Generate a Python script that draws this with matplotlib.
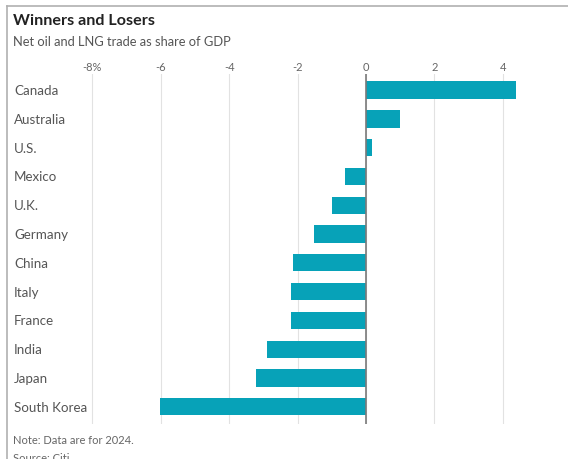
import numpy as np
import matplotlib.pyplot as plt
from matplotlib.lines import Line2D
from matplotlib.transforms import blended_transform_factory

plt.rcParams['font.family'] = ['Lato', 'DejaVu Sans']

countries = ["Canada", "Australia", "U.S.", "Mexico", "U.K.", "Germany",
             "China", "Italy", "France", "India", "Japan", "South Korea"]
values = [4.38, 1.0, 0.18, -0.6, -1.0, -1.52, -2.13, -2.2, -2.2, -2.9, -3.21, -6.02]
xticks = [-8, -6, -4, -2, 0, 2, 4, 6]
xticklabels = ["-8%", "-6", "-4", "-2", "0", "2", "4", "6"]

W, H = 568, 460
fig = plt.figure(figsize=(W / 100, H / 100), dpi=100)

# axes placement in pixels: zero at x=366, 34.2 px per unit
x0, ppu = 366, 34.2
xmin, xmax = -8.5, 6.05
left = x0 + ppu * xmin
right = x0 + ppu * xmax
top, bottom = 75, 425
ax = fig.add_axes([left / W, 1 - bottom / H, (right - left) / W, (bottom - top) / H])

y = np.arange(len(countries))
ax.barh(y, values, height=0.6, color="#07a2b8", zorder=2)
ax.set_xlim(xmin, xmax)
ax.set_ylim(len(countries) - 0.4, -0.56)

ax.set_xticks(xticks)
ax.set_xticklabels(xticklabels)
ax.xaxis.tick_top()
ax.tick_params(axis="x", length=0, pad=1.5, labelsize=8, labelcolor="#666666")
ax.set_yticks([])
for s in ax.spines.values():
    s.set_visible(False)
ax.grid(axis="x", color="#e2e2e2", linewidth=0.8, zorder=0)
ax.axvline(0, color="#7a7a7a", linewidth=1.2, zorder=3)

trans = blended_transform_factory(fig.transFigure, ax.transData)
for yi, name in zip(y, countries):
    fig.text(14 / W, yi, name, transform=trans, ha="left", va="center",
             fontsize=9.6, color="#555555")

fig.text(13 / W, 1 - 21 / H, "Winners and Losers", fontsize=11.6,
         fontweight="bold", color="#222222", va="center")
fig.text(13 / W, 1 - 42 / H, "Net oil and LNG trade as share of GDP",
         fontsize=9.3, color="#555555", va="center")
fig.text(13 / W, 1 - 441 / H, "Note: Data are for 2024.", fontsize=8,
         color="#666666", va="center")
fig.text(13 / W, 1 - 459 / H, "Source: Citi", fontsize=8,
         color="#666666", va="center")

# frame lines on left and top
fig.add_artist(Line2D([7 / W, 7 / W], [0, 1 - 7 / H], transform=fig.transFigure,
                      color="#b0b0b0", linewidth=1.2))
fig.add_artist(Line2D([7 / W, 1], [1 - 7 / H, 1 - 7 / H], transform=fig.transFigure,
                      color="#b0b0b0", linewidth=1.2))

fig.savefig("out.png", dpi=100)
